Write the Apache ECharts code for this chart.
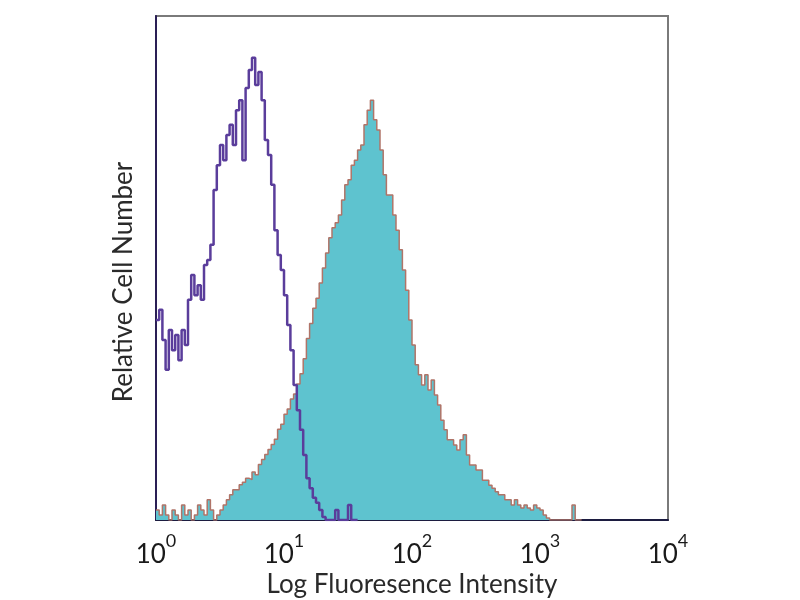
<!DOCTYPE html>
<html>
<head>
<meta charset="utf-8">
<script src="https://cdn.jsdelivr.net/npm/echarts@6/dist/echarts.min.js"></script>
<style>html,body{margin:0;padding:0;background:#fff}#c{width:800px;height:600px}</style>
</head>
<body>
<div id="c"></div>
<script>
// Histogram channels: bin i covers log10 intensity [i*binWidth, (i+1)*binWidth)
const binWidth = 0.025;
const decadeTicks = [0, 1, 2, 3, 4];
const tickExponents = ['0', '1', '2', '3', '4'];
const xTitle = 'Log Fluoresence Intensity';
const yTitle = 'Relative Cell Number';

// Control (purple outline) counts per bin
const controlCounts = [
  39.7, 41.7, 35.7, 29.8, 37.7, 33.7, 36.7, 31.7, 37.7, 34.7,
  43.7, 48.6, 44.6, 46.6, 43.7, 50.6, 51.6, 54.6, 65.5, 70.4,
  74.4, 71.4, 76.4, 78.4, 74.4, 81.3, 83.3, 71.4, 85.7, 89.3,
  91.7, 86.3, 88.9, 83.3, 75.4, 72.4, 66.5, 57.5, 52.6, 49.6,
  44.6, 38.7, 33.7, 26.8, 21.8, 17.9, 12.9, 8.3, 6.3, 4.4,
  3.4, 2.0, 0.6, 0, 0, 0, 2.0, 0, 0, 0,
  3.0, 0, 0
];

// Stained sample (filled teal) counts per bin
const stainedCounts = [
  2, 1, 3, 1, 0, 2, 1, 0, 3, 1,
  2, 0, 1, 3, 2, 1, 4, 2, 0, 1,
  2, 3, 4, 5, 6, 6, 7, 7.5, 8.3, 8,
  9.5, 9, 11, 12, 13, 14, 15, 16, 18, 19,
  21, 22, 24, 25, 27, 29, 32, 36, 39, 42,
  44, 47, 50, 53, 56, 58, 59, 60.5, 63.5, 66.5,
  67.5, 70.4, 71.4, 73.4, 74.4, 78.4, 81.3, 83.3, 79.4, 77.4,
  73.4, 68.5, 64.5, 64.5, 60.5, 57.5, 53.6, 49.6, 45.6, 39.7,
  34.7, 30.8, 28.8, 26.8, 28.8, 25.8, 27.8, 24.8, 22.8, 19.8,
  17.9, 15.9, 15.9, 14.9, 13.9, 15.9, 16.9, 12.9, 10.9, 10.9,
  9.9, 9.9, 7.9, 7.9, 6.9, 6.3, 5.6, 5, 5, 4,
  4, 3, 4, 3, 2.4, 3, 2.4, 2, 3, 2.4,
  2, 1, 0.4, 0, 0, 0, 0, 0, 0, 0,
  3, 0, 0
];

function toPairs(counts) {
  const out = counts.map((v, i) => [i * binWidth, v]);
  out.push([counts.length * binWidth, 0]);
  return out;
}

const chart = echarts.init(document.getElementById('c'), null, {renderer: 'canvas'});
const fontFam = 'Lato, "Open Sans", sans-serif';
chart.setOption({
  animation: false,
  backgroundColor: '#ffffff',
  grid: {left: 156, top: 16, width: 512, height: 504, outerBoundsMode: 'none', containLabel: false,
         show: true, borderColor: '#7a7a7a', borderWidth: 2, backgroundColor: 'transparent'},
  xAxis: {
    type: 'value', min: 0, max: 4, interval: 1,
    splitLine: {show: false},
    axisTick: {show: false},
    axisLine: {show: true, onZero: false, lineStyle: {color: '#1c1c40', width: 2}},
    axisLabel: {
      margin: 12,
      formatter: v => '{b|10}{s|' + tickExponents[decadeTicks.indexOf(v)] + '}',
      rich: {
        b: {fontSize: 26, color: '#1a1a1a', fontFamily: fontFam, verticalAlign: 'bottom', padding: [10, 0, 0, 0]},
        s: {fontSize: 18, color: '#1a1a1a', fontFamily: fontFam, verticalAlign: 'top', padding: [0, 0, 12, 0]}
      }
    },
    name: xTitle, nameLocation: 'middle', nameGap: 52, nameMoveOverlap: false,
    nameTextStyle: {fontSize: 26, color: '#2a2a2a', fontFamily: fontFam}
  },
  yAxis: {
    type: 'value', min: 0, max: 100,
    splitLine: {show: false},
    axisTick: {show: false},
    axisLabel: {show: false},
    axisLine: {show: true, lineStyle: {color: '#2a1f55', width: 2}},
    name: yTitle, nameLocation: 'middle', nameGap: 19, nameRotate: 90, nameMoveOverlap: false,
    nameTextStyle: {fontSize: 26, color: '#2a2a2a', fontFamily: fontFam, padding: [0, 28, 0, 0]}
  },
  series: [
    {
      type: 'line', step: 'end', symbol: 'none',
      data: toPairs(stainedCounts),
      lineStyle: {color: '#b07468', width: 1.5},
      areaStyle: {color: '#5ec3cf', opacity: 1},
      z: 2
    },
    {
      type: 'line', step: 'end', symbol: 'none',
      data: toPairs(controlCounts),
      lineStyle: {color: '#5a3d9b', width: 2.5},
      z: 3
    }
  ]
});
</script>
</body>
</html>
